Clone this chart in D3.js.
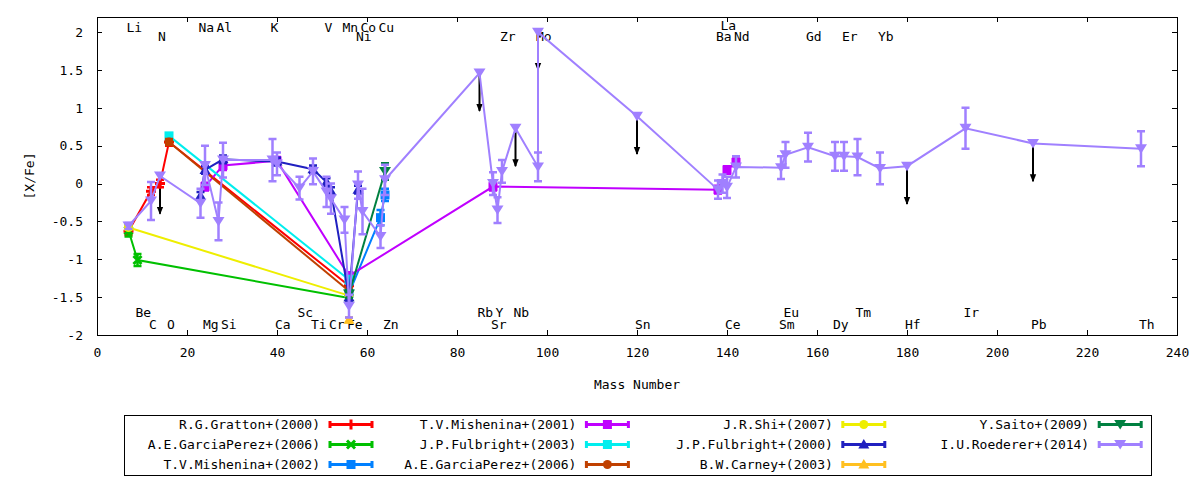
<!DOCTYPE html>
<html>
<head>
<meta charset="utf-8">
<script src="https://cdn.jsdelivr.net/npm/d3@7"></script>
<style>
body { margin: 0; background: #fff; }
text { font-family: "DejaVu Sans Mono", monospace; font-size: 13px; fill: #000; }
</style>
</head>
<body>
<svg id="chart"></svg>
<script>
// axis ticks
var xTicks = [0, 20, 40, 60, 80, 100, 120, 140, 160, 180, 200, 220, 240];
var yTicks = [-2, -1.5, -1, -0.5, 0, 0.5, 1, 1.5, 2];

// element names, mass number of the main isotope, row of the label (0,1 top / 2,3 bottom)
var labelNames = ["Li", "Na", "Al", "K", "V", "Mn", "Co", "Cu", "La",
                  "N", "Ni", "Zr", "Mo", "Ba", "Nd", "Gd", "Er", "Yb",
                  "Be", "Sc", "Rb", "Y", "Nb", "Eu", "Tm", "Ir",
                  "C", "O", "Mg", "Si", "Ca", "Ti", "Cr", "Fe", "Zn", "Sr", "Sn", "Ce", "Sm", "Dy", "Hf", "Pb", "Th"];
var labelMass = [7, 23, 27, 39, 51, 55, 59, 63, 139,
                 14, 58, 90, 98, 138, 142, 158, 166, 174,
                 9, 45, 85, 89, 93, 153, 169, 193,
                 12, 16, 24, 28, 40, 48, 52, 56, 64, 88, 120, 140, 152, 164, 180, 208, 232];
var labelRow = [0, 0, 0, 0, 0, 0, 0, 0, 0,
                1, 1, 1, 1, 1, 1, 1, 1, 1,
                2, 2, 2, 2, 2, 2, 2, 2,
                3, 3, 3, 3, 3, 3, 3, 3, 3, 3, 3, 3, 3, 3, 3, 3, 3];

// series: [mass, [X/Fe], error, upper limit]
var gratton = [[7, -0.63, 0.05], [12, -0.10, 0.05], [14, 0.00, 0.05], [16, 0.55, 0.05], [56, -1.35, 0.05]];
var garciaPerezA = [[7, -0.62, 0.08], [9, -1.01, 0.08], [56, -1.51, 0.05]];
var mishenina02 = [[56, -1.45, 0.05], [63, -0.45, 0.10], [64, -0.15, 0.08]];
var mishenina01 = [[24, -0.04, 0.05], [28, 0.24, 0.06], [40, 0.30, 0.05], [56, -1.22, 0.05],
                   [88, -0.04, 0.05], [138, -0.08, 0.05], [140, 0.18, 0.05], [142, 0.28, 0.05]];
var fulbright03 = [[16, 0.63, 0.03], [56, -1.27, 0.05]];
var garciaPerezB = [[16, 0.55, 0.04], [56, -1.42, 0.05]];
var shi = [[7, -0.58, 0.03], [56, -1.48, 0.03]];
var fulbright00 = [[23, -0.16, 0.05], [24, 0.18, 0.05], [28, 0.32, 0.05], [40, 0.29, 0.05], [48, 0.19, 0.05],
                   [51, 0.02, 0.05], [52, -0.10, 0.05], [56, -1.50, 0.05], [58, -0.08, 0.05]];
var carney = [[56, -1.80, 0.03]];
var saito = [[56, -1.46, 0.05], [64, 0.16, 0.11]];
var roederer = [
  [7, -0.56, 0.04], [12, -0.23, 0.25], [14, 0.10, 0, 1], [23, -0.26, 0.19], [24, 0.24, 0.26],
  [27, -0.50, 0.25], [28, 0.31, 0.23], [39, 0.31, 0.28], [40, 0.26, 0.15], [45, -0.06, 0.15],
  [48, 0.16, 0.17], [51, -0.11, 0.20], [52, -0.20, 0.20], [55, -0.48, 0.17], [56, -1.62, 0.15],
  [58, -0.02, 0.18], [59, -0.37, 0.30], [63, -0.70, 0.15], [64, 0.05, 0.20],
  [85, 1.46, 0, 1], [88, 0.00, 0.15], [89, -0.35, 0.17], [90, 0.16, 0.15], [93, 0.73, 0, 1],
  [98, 0.22, 0.19], [98, 2.00, 0, 1], [120, 0.89, 0, 1],
  [138, -0.08, 0.12], [139, 0.00, 0.12], [140, -0.05, 0.14], [142, 0.22, 0.14],
  [152, 0.21, 0.15], [153, 0.38, 0.17], [158, 0.48, 0.19], [164, 0.36, 0.19], [166, 0.36, 0.19],
  [169, 0.35, 0.24], [174, 0.20, 0.21], [180, 0.23, 0, 1], [193, 0.73, 0.27], [208, 0.53, 0, 1],
  [232, 0.46, 0.23]];

var seriesNames = ["R.G.Gratton+(2000)", "A.E.GarciaPerez+(2006)", "T.V.Mishenina+(2002)",
                   "T.V.Mishenina+(2001)", "J.P.Fulbright+(2003)", "A.E.GarciaPerez+(2006)",
                   "J.R.Shi+(2007)", "J.P.Fulbright+(2000)", "B.W.Carney+(2003)",
                   "Y.Saito+(2009)", "I.U.Roederer+(2014)"];
var seriesData = [gratton, garciaPerezA, mishenina02, mishenina01, fulbright03, garciaPerezB,
                  shi, fulbright00, carney, saito, roederer];
var seriesColors = ["#ff0000", "#00c000", "#0080ff", "#c000ff", "#00eeee", "#c04000",
                    "#eeee00", "#2020c0", "#ffc020", "#008040", "#a080ff"];
var seriesMarkers = ["plus", "cross", "square", "square", "square", "circle",
                     "circle", "triUp", "triUp", "triDown", "triDown"];

var svg = d3.select("#chart").attr("width", 1200).attr("height", 480);

var x = d3.scaleLinear().domain([0, 240]).range([97, 1177]);
var y = d3.scaleLinear().domain([-2, 2.2]).range([335, 17]);

/* axes, ticks inward on every side */
function styleAxis(g) {
  g.select(".domain").remove();
  g.selectAll("line").attr("stroke", "#000").attr("shape-rendering", "crispEdges");
  g.attr("font-family", null).attr("font-size", null);
  g.selectAll("text").attr("fill", "#000");
}
svg.append("g").attr("transform", "translate(0,335)")
  .call(d3.axisBottom(x).tickValues(xTicks).tickSize(-5).tickPadding(13).tickFormat(d3.format("d")))
  .call(styleAxis);
svg.append("g").attr("transform", "translate(0,17)")
  .call(d3.axisTop(x).tickValues(xTicks).tickSize(-5).tickFormat(""))
  .call(styleAxis);
svg.append("g").attr("transform", "translate(97,0)")
  .call(d3.axisLeft(y).tickValues(yTicks).tickSize(-5).tickPadding(14).tickFormat(d => String(d)))
  .call(styleAxis);
svg.append("g").attr("transform", "translate(1177,0)")
  .call(d3.axisRight(y).tickValues(yTicks).tickSize(-5).tickFormat(""))
  .call(styleAxis);

svg.append("rect")
  .attr("x", 97).attr("y", 17).attr("width", 1080).attr("height", 318)
  .attr("fill", "none").attr("stroke", "#000").attr("shape-rendering", "crispEdges");

svg.append("text").attr("x", 637).attr("y", 389).attr("text-anchor", "middle").text("Mass Number");
svg.append("text").attr("transform", "translate(34,176) rotate(-90)")
  .attr("text-anchor", "middle").text("[X/Fe]");

/* element labels */
var rowLevel = [2.07, 1.95, -1.70, -1.86];
svg.append("g").selectAll("text")
  .data(labelNames)
  .join("text")
  .attr("x", (d, i) => x(labelMass[i]) - 2)
  .attr("y", (d, i) => y(rowLevel[labelRow[i]]) + (d === "La" ? -2 : 0))
  .attr("dy", "0.36em")
  .text(d => d);

/* upper limit arrows */
var defs = svg.append("defs");
defs.append("marker").attr("id", "head")
  .attr("viewBox", "0 0 8 8").attr("refX", 7).attr("refY", 4)
  .attr("markerWidth", 8).attr("markerHeight", 8).attr("markerUnits", "userSpaceOnUse")
  .attr("orient", "auto")
  .append("path").attr("d", "M0,0.8 L8,4 L0,7.2 Z").attr("fill", "#000");

var limits = [];
seriesData.forEach(s => s.forEach(p => { if (p[3]) limits.push(p); }));
svg.append("g").selectAll("line")
  .data(limits)
  .join("line")
  .attr("x1", d => x(d[0])).attr("x2", d => x(d[0]))
  .attr("y1", d => y(d[1])).attr("y2", d => y(d[1] - 0.5))
  .attr("stroke", "#000").attr("stroke-width", 2)
  .attr("marker-end", "url(#head)");

/* point shapes */
function drawMarker(g, type, color) {
  if (type === "plus") {
    g.append("path").attr("d", "M-5,0H5M0,-5V5").attr("stroke", color).attr("stroke-width", 3);
  } else if (type === "cross") {
    g.append("path").attr("d", "M-4,-4L4,4M-4,4L4,-4").attr("stroke", color).attr("stroke-width", 3);
  } else if (type === "square") {
    g.append("rect").attr("x", -4.5).attr("y", -4.5).attr("width", 9).attr("height", 9).attr("fill", color);
  } else if (type === "circle") {
    g.append("circle").attr("r", 4.5).attr("fill", color);
  } else if (type === "triUp") {
    g.append("path").attr("d", "M-5.5,4L5.5,4L0,-5.5Z").attr("fill", color);
  } else {
    g.append("path").attr("d", "M-6,-4.5L6,-4.5L0,5Z").attr("fill", color);
  }
}

var line = d3.line().x(d => x(d[0])).y(d => y(d[1]));

seriesData.forEach((data, k) => {
  var color = seriesColors[k];
  var g = svg.append("g");
  g.append("path").datum(data)
    .attr("d", line).attr("fill", "none")
    .attr("stroke", color).attr("stroke-width", 2);

  var bars = data.filter(d => d[2] > 0);
  g.selectAll(".bar").data(bars).join("path")
    .attr("class", "bar")
    .attr("d", d => {
      var xx = x(d[0]), y0 = y(d[1] - d[2]), y1 = y(d[1] + d[2]);
      return "M" + xx + "," + y0 + "V" + y1 +
             "M" + (xx - 4) + "," + y0 + "H" + (xx + 4) +
             "M" + (xx - 4) + "," + y1 + "H" + (xx + 4);
    })
    .attr("fill", "none").attr("stroke", color).attr("stroke-width", 2.5);

  g.selectAll(".pt").data(data).join("g")
    .attr("class", "pt")
    .attr("transform", d => "translate(" + x(d[0]) + "," + y(d[1]) + ")")
    .each(function () { drawMarker(d3.select(this), seriesMarkers[k], color); });
});

/* legend */
svg.append("rect")
  .attr("x", 124.5).attr("y", 415.5).attr("width", 1027).attr("height", 60)
  .attr("fill", "none").attr("stroke", "#000");

var legend = svg.append("g").selectAll("g")
  .data(seriesNames)
  .join("g")
  .attr("transform", (d, i) => "translate(" + (329 + Math.floor(i / 3) * 256.4) + "," + (424.5 + (i % 3) * 20) + ")");

legend.append("text")
  .attr("x", -9).attr("dy", "0.36em").attr("text-anchor", "end")
  .text(d => d);

legend.each(function (d, i) {
  var g = d3.select(this), color = seriesColors[i];
  g.append("path")
    .attr("d", "M1,0H43M1,-3.5V3.5M43,-3.5V3.5")
    .attr("fill", "none").attr("stroke", color).attr("stroke-width", 3);
  var m = g.append("g").attr("transform", "translate(22,0)");
  drawMarker(m, seriesMarkers[i], color);
});
</script>
</body>
</html>
